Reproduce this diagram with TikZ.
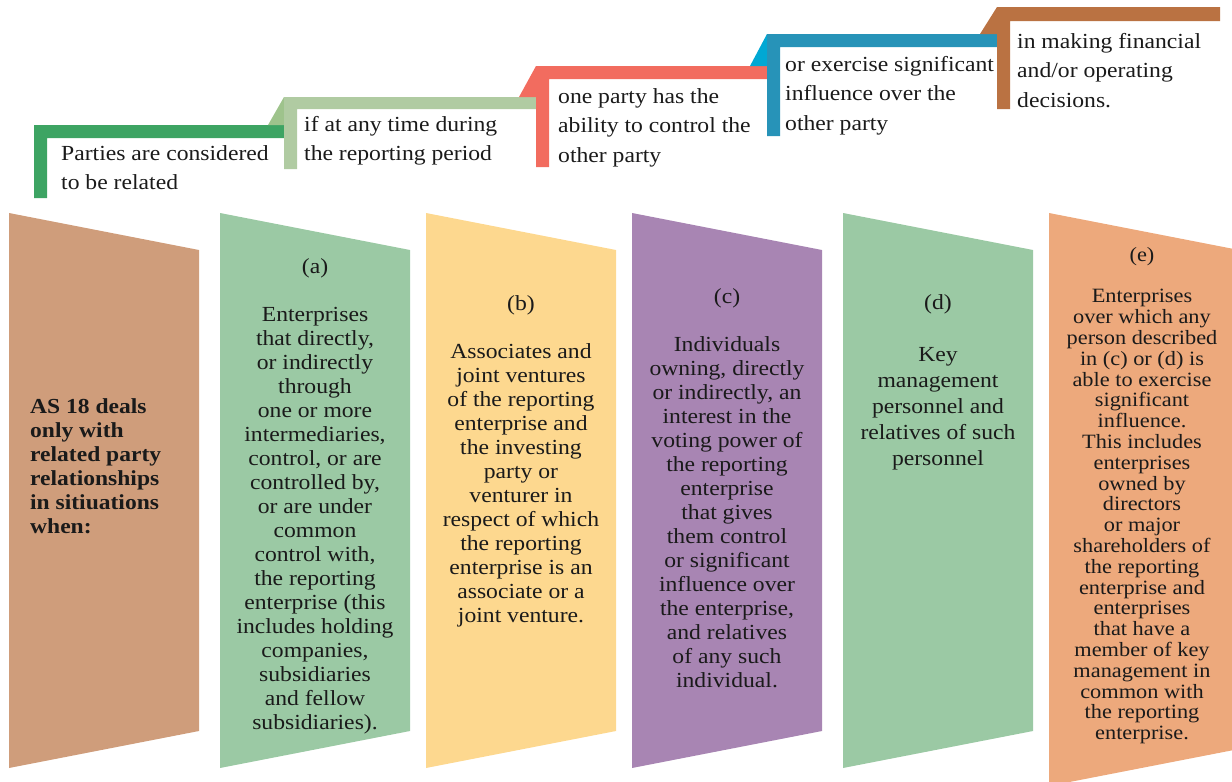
\documentclass[tikz,border=0pt]{standalone}
\usepackage{fontspec}
\setmainfont{Liberation Serif}[FakeStretch=1.1]
\definecolor{boxbrown}{RGB}{207,157,123}
\definecolor{boxgreen}{RGB}{155,201,164}
\definecolor{boxyellow}{RGB}{253,216,143}
\definecolor{boxpurple}{RGB}{168,133,179}
\definecolor{boxorange}{RGB}{237,169,124}
\definecolor{stepgreen}{RGB}{61,164,99}
\definecolor{steplight}{RGB}{176,203,162}
\definecolor{steplighttri}{RGB}{158,195,140}
\definecolor{stepred}{RGB}{242,108,95}
\definecolor{stepblue}{RGB}{39,147,184}
\definecolor{stepbluetri}{RGB}{0,168,212}
\definecolor{stepbrown}{RGB}{186,114,66}
\definecolor{txt}{RGB}{26,26,26}
\begin{document}
\begin{tikzpicture}[x=1pt,y=-1pt,
  boxtext/.style={font=\fontsize{21.5}{24}\selectfont, align=center, inner sep=0pt, anchor=north, text=txt},
  steptext/.style={font=\fontsize{21.5}{29.5}\selectfont, align=left, inner sep=0pt, anchor=north west, text=txt}]
\useasboundingbox (0,0) rectangle (1232,782);
\clip (0,0) rectangle (1232,782);

% trapezoid boxes
\fill[boxbrown]  (9,213) -- (199,250) -- (199,731) -- (9,768) -- cycle;
\fill[boxgreen]  (220,213) -- (410,250) -- (410,731) -- (220,768) -- cycle;
\fill[boxyellow] (426,213) -- (616,250) -- (616,731) -- (426,768) -- cycle;
\fill[boxpurple] (632,213) -- (822,250) -- (822,731) -- (632,768) -- cycle;
\fill[boxgreen]  (843,213) -- (1033,250) -- (1033,731) -- (843,768) -- cycle;
\fill[boxorange] (1049,213) -- (1239,250) -- (1239,749) -- (1049,786) -- cycle;

% step-up bars
\fill[stepgreen] (34,198) -- (34,125) -- (284,125) -- (284,138) -- (47,138) -- (47,198) -- cycle;
\fill[steplighttri] (268,125) -- (284,97) -- (284,125) -- cycle;
\fill[steplight] (284,169) -- (284,97) -- (536,97) -- (536,109) -- (297,109) -- (297,169) -- cycle;
\fill[stepred] (519,97) -- (536,66) -- (536,97) -- cycle;
\fill[stepred] (536,167) -- (536,66) -- (767,66) -- (767,79) -- (549,79) -- (549,167) -- cycle;
\fill[stepbluetri] (750,66) -- (767,34) -- (767,66) -- cycle;
\fill[stepblue] (767,136) -- (767,34) -- (997,34) -- (997,47) -- (780,47) -- (780,136) -- cycle;
\fill[stepbrown] (980,34) -- (997,7) -- (997,34) -- cycle;
\fill[stepbrown] (997,109) -- (997,7) -- (1220,7) -- (1220,21) -- (1010,21) -- (1010,109) -- cycle;

% step texts
\node[steptext] (s1) at (61,145) {Parties are considered\\to be related};
\node[steptext] (s2) at (304,116) {if at any time during\\the reporting period};
\node[steptext] (s3) at (558,88) {one party has the\\ability to control the\\other party};
\node[steptext] (s4) at (785,56) {or exercise significant\\influence over the\\other party};
\node[steptext] (s5) at (1017,33) {in making financial\\and/or operating\\decisions.};

% box texts
\node[boxtext, align=left, anchor=north west, font=\bfseries\fontsize{21.4}{24}\selectfont] (t0) at (30,398)
  {AS 18 deals\\only with\\related party\\relationships\\in sitiuations\\when:};
\node[boxtext] (ta) at (315,258)
  {(a)\\[24pt]Enterprises\\that directly,\\or indirectly\\through\\one or more\\intermediaries,\\control, or are\\controlled by,\\or are under\\common\\control with,\\the reporting\\enterprise (this\\includes holding\\companies,\\subsidiaries\\and fellow\\subsidiaries).};
\node[boxtext] (tb) at (521,295)
  {(b)\\[24pt]Associates and\\joint ventures\\of the reporting\\enterprise and\\the investing\\party or\\venturer in\\respect of which\\the reporting\\enterprise is an\\associate or a\\joint venture.};
\node[boxtext] (tc) at (727,288)
  {(c)\\[24pt]Individuals\\owning, directly\\or indirectly, an\\interest in the\\voting power of\\the reporting\\enterprise\\that gives\\them control\\or significant\\influence over\\the enterprise,\\and relatives\\of any such\\individual.};
\node[boxtext, font=\fontsize{21.5}{26}\selectfont] (td) at (938,294)
  {(d)\\[26pt]Key\\management\\personnel and\\relatives of such\\personnel};
\node[boxtext, font=\fontsize{20.3}{20.8}\selectfont] (te) at (1142,247)
  {(e)\\[20.8pt]Enterprises\\over which any\\person described\\in (c) or (d) is\\able to exercise\\significant\\influence.\\This includes\\enterprises\\owned by\\directors\\or major\\shareholders of\\the reporting\\enterprise and\\enterprises\\that have a\\member of key\\management in\\common with\\the reporting\\enterprise.};
\end{tikzpicture}
\end{document}
